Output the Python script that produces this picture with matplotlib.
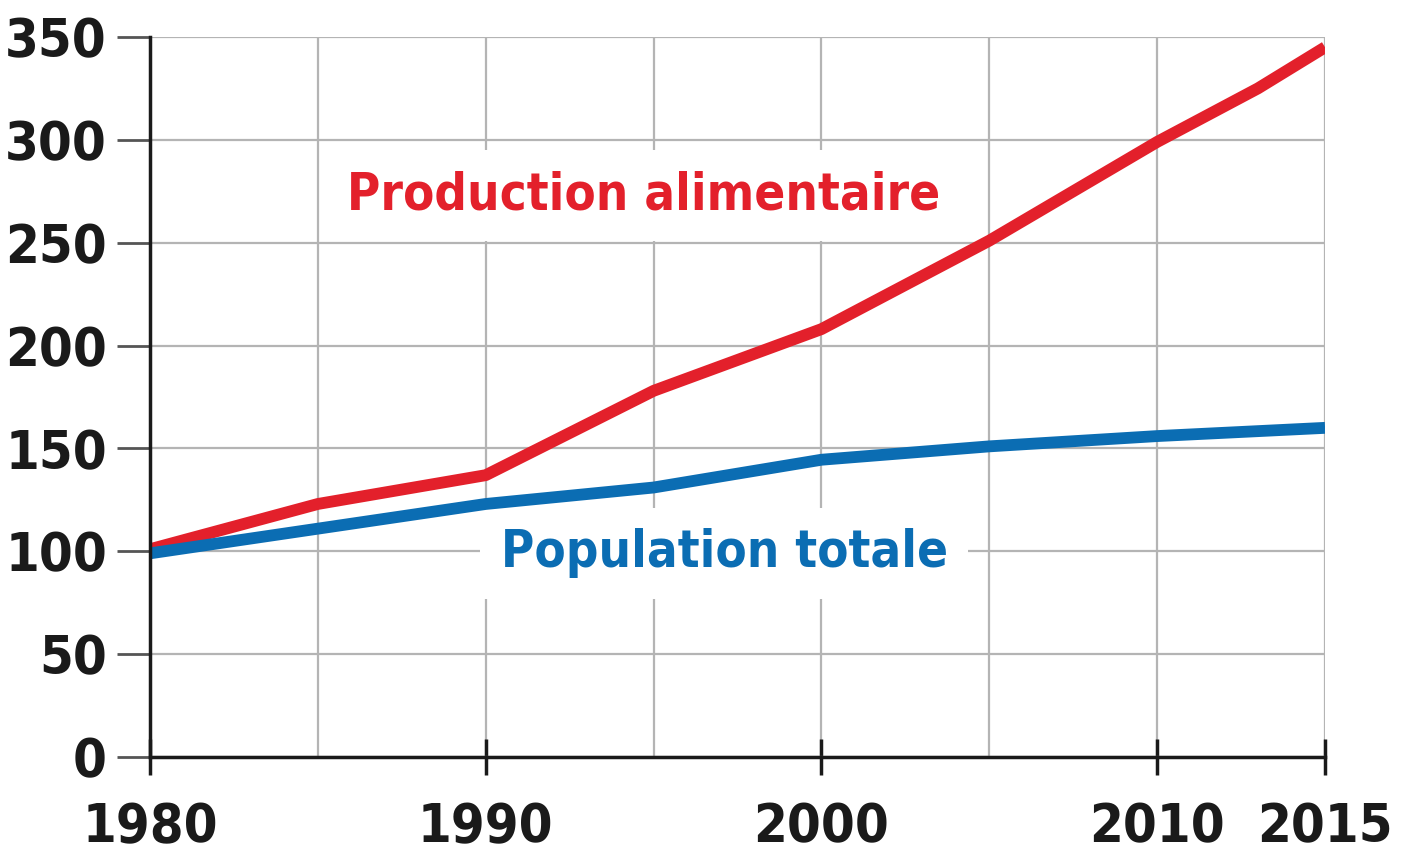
import matplotlib.pyplot as plt
from matplotlib.ticker import MultipleLocator

plt.rcParams['font.family'] = ['DejaVu Sans']
plt.rcParams['font.stretch'] = 'condensed'

years_food = [1980, 1985, 1990, 1995, 2000, 2005, 2010, 2013, 2015]
food = [101, 123, 137, 178, 208, 251, 299, 325, 345]

years_pop = [1980, 1985, 1990, 1995, 2000, 2005, 2010, 2015]
pop = [99, 111, 123, 131, 144.5, 151, 156, 160]

major_years = [1980, 1990, 2000, 2010, 2015]
minor_years = [1985, 1995, 2005]

red = '#e3202b'
blue = '#0b6db3'
grid_col = '#b4b4b4'

fig = plt.figure(figsize=(14.05, 8.52), dpi=100)
ax = fig.add_axes([0.1068, 0.1115, 0.8363, 0.8451])

ax.plot(years_food, food, color=red, lw=8.5, solid_capstyle='butt', zorder=4)
ax.plot(years_pop, pop, color=blue, lw=8.5, solid_capstyle='butt', zorder=4)

ax.set_xlim(1980, 2015)
ax.set_ylim(0, 350)
ax.set_xticks(major_years)
ax.set_xticks(minor_years, minor=True)
ax.yaxis.set_major_locator(MultipleLocator(50))

ax.grid(True, which='both', color=grid_col, lw=1.6, zorder=1)
ax.set_axisbelow(True)

for s in ['top', 'right']:
    ax.spines[s].set_visible(False)
for s in ['left', 'bottom']:
    ax.spines[s].set_linewidth(2.5)
    ax.spines[s].set_color('#1a1a1a')
    ax.spines[s].set_zorder(5)

ax.tick_params(axis='y', direction='out', length=24, width=2, color='#555555',
               labelsize=39, pad=7, labelcolor='#1a1a1a')
ax.tick_params(axis='x', which='major', direction='inout', length=26, width=2.5,
               color='#1a1a1a', labelsize=39, pad=19, labelcolor='#1a1a1a')
ax.tick_params(axis='x', which='minor', length=0)
for lab in ax.get_xticklabels() + ax.get_yticklabels():
    lab.set_fontweight('bold')

box = dict(boxstyle='square,pad=0.4', facecolor='white', edgecolor='none')
ax.text(1994.7, 273, 'Production alimentaire', color=red, fontsize=36.5,
        fontweight='bold', ha='center', va='center', bbox=box, zorder=3)
ax.text(1997.1, 99, 'Population totale', color=blue, fontsize=36.5,
        fontweight='bold', ha='center', va='center', bbox=box, zorder=3)

fig.savefig('out.png', dpi=100)
